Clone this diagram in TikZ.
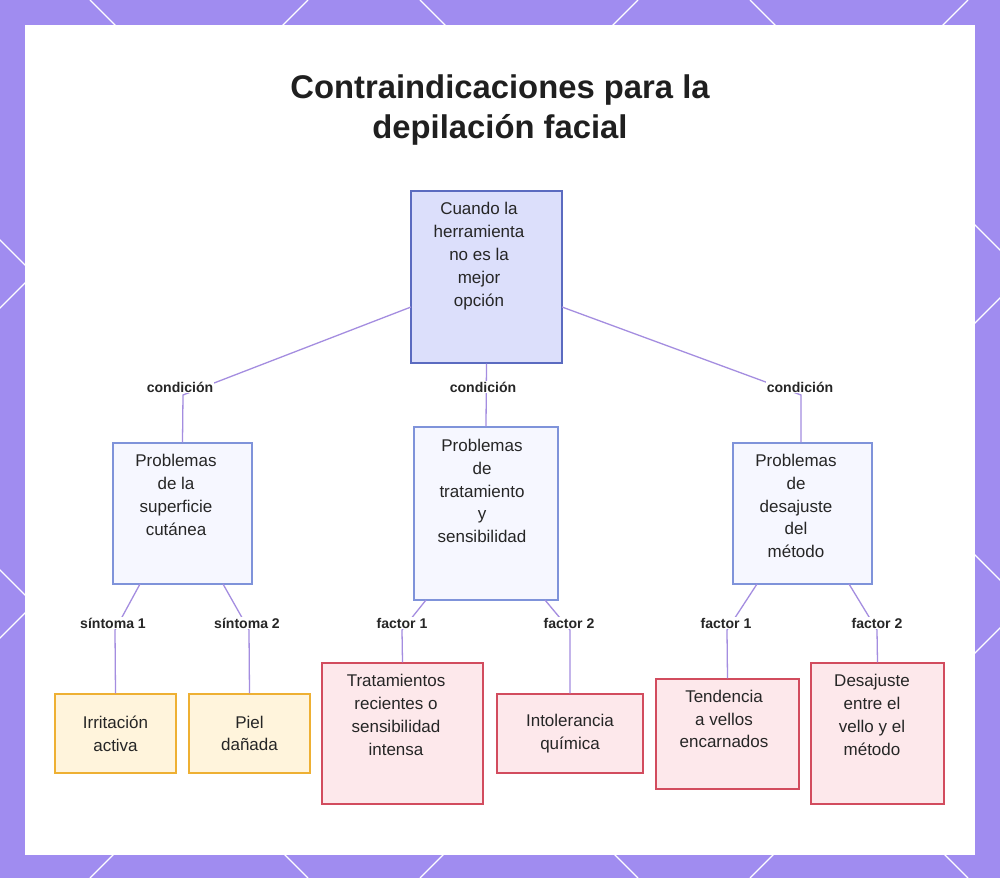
\documentclass[tikz,border=0pt]{standalone}
\usepackage{fontspec}
\setmainfont{Liberation Sans}
\begin{document}
\begin{tikzpicture}[x=0.03cm,y=-0.03cm,
 box/.style={draw=#1,line width=1.2pt,inner sep=0pt},
 txt/.style={align=center,font=\fontsize{14.5}{19.5}\selectfont,text=black!85},
 lab/.style={font=\bfseries\fontsize{12}{14}\selectfont,text=black!85,fill=white,inner sep=1pt},
 con/.style={draw=lin,line width=1.1pt}]
\definecolor{frame}{HTML}{A08CF0}
\definecolor{lin}{HTML}{A48DE0}
\definecolor{topf}{HTML}{DCDFFB}\definecolor{topd}{HTML}{5B6BC0}
\definecolor{midf}{HTML}{F6F7FF}\definecolor{midd}{HTML}{7F93DA}
\definecolor{orf}{HTML}{FFF4DC}\definecolor{ord}{HTML}{EEB033}
\definecolor{pkf}{HTML}{FDE8EB}\definecolor{pkd}{HTML}{D24C5E}
\useasboundingbox (0,0) rectangle (1000,878);
\fill[frame] (0,0) rectangle (1000,878);
\begin{scope}
\clip (0,0) rectangle (1000,878);
\foreach \k in {-900,-570,...,1900}{
 \draw[white,line width=1pt] (\k,0) -- (\k+878,878);
 \draw[white,line width=1pt] (\k,878) -- (\k+878,0);}
\end{scope}
\fill[white] (25,25) rectangle (975,855);
\node[font=\bfseries\fontsize{28}{34}\selectfont,align=center,text=black!88] (title) at (500,110) {Contraindicaciones para la\\depilación facial};
% boxes
\node[box=topd,fill=topf,minimum width=4.53cm,minimum height=5.16cm] (top) at (486.5,277) {};
\node[txt] at (479,256) {Cuando la\\herramienta\\no es la\\mejor\\opción};
\node[box=midd,fill=midf,minimum width=4.17cm,minimum height=4.23cm] (m1) at (182.5,513.5) {};
\node[txt] at (176,495) {Problemas\\de la\\superficie\\cutánea};
\node[box=midd,fill=midf,minimum width=4.32cm,minimum height=5.19cm] (m2) at (486,513.5) {};
\node[txt] at (482,491) {Problemas\\de\\tratamiento\\y\\sensibilidad};
\node[box=midd,fill=midf,minimum width=4.17cm,minimum height=4.23cm] (m3) at (802.5,513.5) {};
\node[txt] at (796,506) {Problemas\\de\\desajuste\\del\\método};
\node[box=ord,fill=orf,minimum width=3.63cm,minimum height=2.37cm,txt] (b1) at (115.5,733.5) {Irritación\\activa};
\node[box=ord,fill=orf,minimum width=3.63cm,minimum height=2.37cm,txt] (b2) at (249.5,733.5) {Piel\\dañada};
\node[box=pkd,fill=pkf,minimum width=4.83cm,minimum height=4.23cm] (b3) at (402.5,733.5) {};
\node[txt] at (396,715) {Tratamientos\\recientes o\\sensibilidad\\intensa};
\node[box=pkd,fill=pkf,minimum width=4.38cm,minimum height=2.37cm,txt] (b4) at (570,733.5) {Intolerancia\\química};
\node[box=pkd,fill=pkf,minimum width=4.29cm,minimum height=3.3cm] (b5) at (727.5,734) {};
\node[txt] at (724,719) {Tendencia\\a vellos\\encarnados};
\node[box=pkd,fill=pkf,minimum width=3.99cm,minimum height=4.23cm] (b6) at (877.5,733.5) {};
\node[txt] at (872,715) {Desajuste\\entre el\\vello y el\\método};
% connectors
\path[con] (411,307) -- (183,395) -- (m1.north);
\path[con] (top.south) -- (m2.north);
\path[con] (562,307) -- (801,395) -- (m3.north-|801,0);
\path[con] (140,584) -- (115,630) -- (b1.north);
\path[con] (223,584) -- (249,630) -- (b2.north);
\path[con] (426,600) -- (402,630) -- (b3.north);
\path[con] (545,600) -- (570,630) -- (b4.north);
\path[con] (757,584) -- (727,630) -- (b5.north);
\path[con] (849,584) -- (877,630) -- (b6.north);
\node[lab] (l1) at (180,387) {condición};
\node[lab] (l2) at (483,387) {condición};
\node[lab] (l3) at (800,387) {condición};
\node[lab] (l4) at (113,623) {síntoma 1};
\node[lab] (l5) at (247,623) {síntoma 2};
\node[lab] (l6) at (402,623) {factor 1};
\node[lab] (l7) at (569,623) {factor 2};
\node[lab] (l8) at (726,623) {factor 1};
\node[lab] (l9) at (877,623) {factor 2};
\end{tikzpicture}
\end{document}
